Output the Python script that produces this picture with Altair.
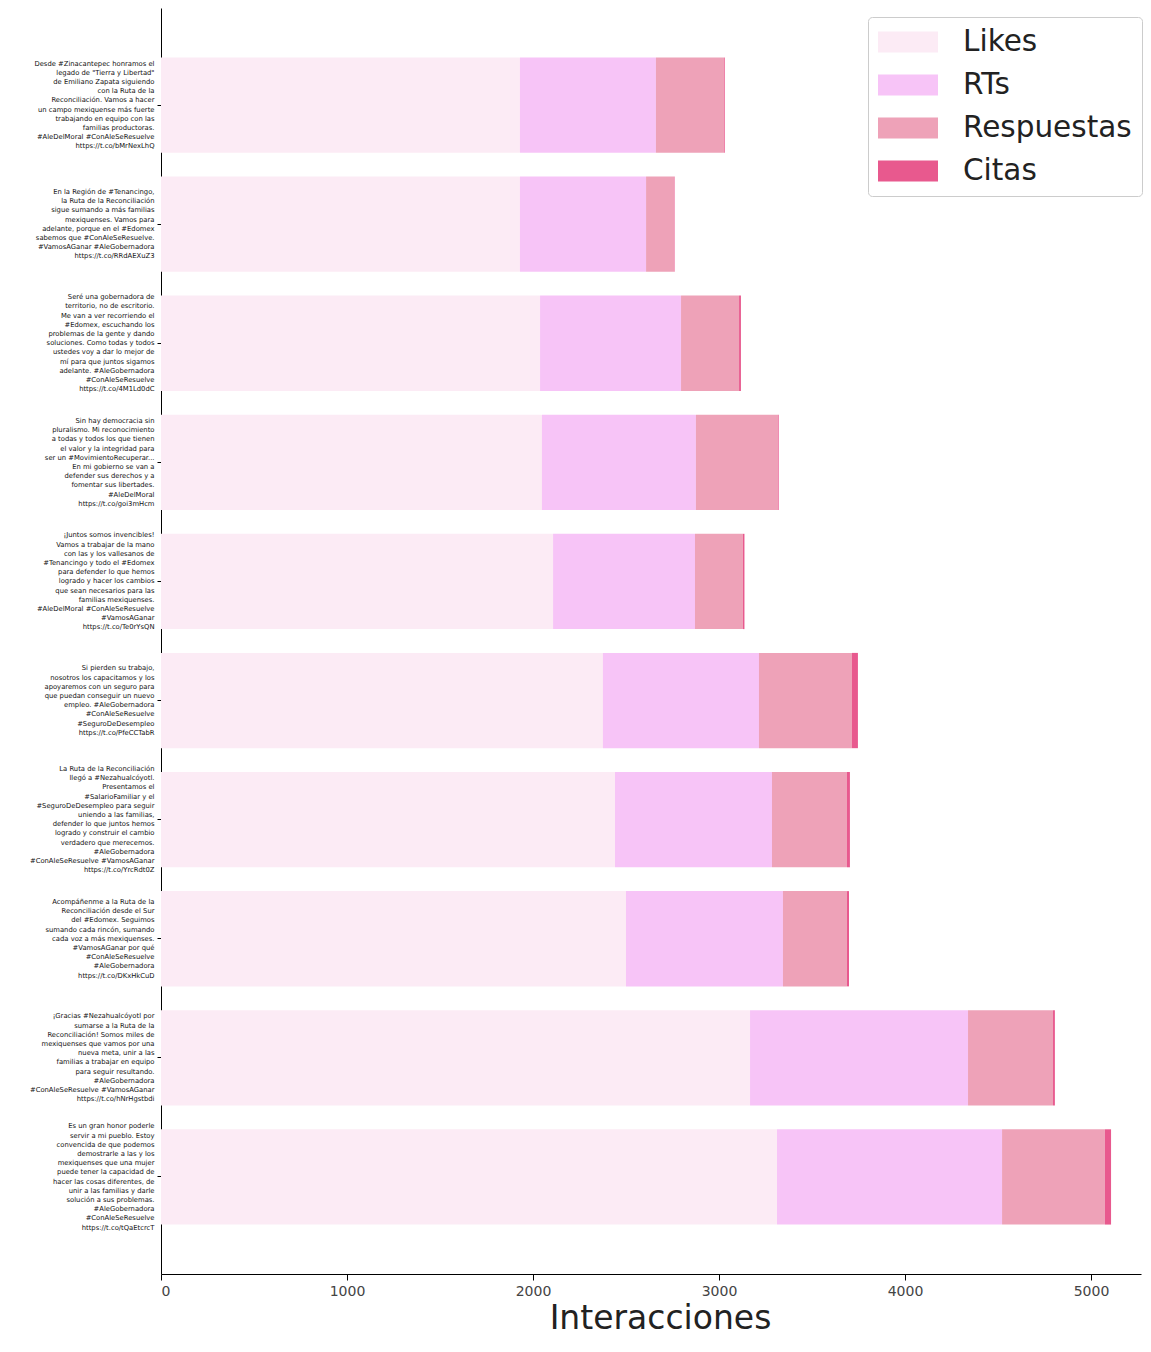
import json
import altair as alt
import pandas as pd

# Tweets (top to bottom), line breaks as in the reference
tweets = [
    "Desde #Zinacantepec honramos el\nlegado de \"Tierra y Libertad\"\nde Emiliano Zapata siguiendo\ncon la Ruta de la\nReconciliación. Vamos a hacer\nun campo mexiquense más fuerte\ntrabajando en equipo con las\nfamilias productoras.\n#AleDelMoral #ConAleSeResuelve\nhttps://t.co/bMrNexLhQ",
    "En la Región de #Tenancingo,\nla Ruta de la Reconciliación\nsigue sumando a más familias\nmexiquenses. Vamos para\nadelante, porque en el #Edomex\nsabemos que #ConAleSeResuelve.\n#VamosAGanar #AleGobernadora\nhttps://t.co/RRdAEXuZ3",
    "Seré una gobernadora de\nterritorio, no de escritorio.\nMe van a ver recorriendo el\n#Edomex, escuchando los\nproblemas de la gente y dando\nsoluciones. Como todas y todos\nustedes voy a dar lo mejor de\nmí para que juntos sigamos\nadelante. #AleGobernadora\n#ConAleSeResuelve\nhttps://t.co/4M1Ld0dC",
    "Sin hay democracia sin\npluralismo. Mi reconocimiento\na todas y todos los que tienen\nel valor y la integridad para\nser un #MovimientoRecuperar...\nEn mi gobierno se van a\ndefender sus derechos y a\nfomentar sus libertades.\n#AleDelMoral\nhttps://t.co/goi3mHcm",
    "¡Juntos somos invencibles!\nVamos a trabajar de la mano\ncon las y los vallesanos de\n#Tenancingo y todo el #Edomex\npara defender lo que hemos\nlogrado y hacer los cambios\nque sean necesarios para las\nfamilias mexiquenses.\n#AleDelMoral #ConAleSeResuelve\n#VamosAGanar\nhttps://t.co/Te0rYsQN",
    "Si pierden su trabajo,\nnosotros los capacitamos y los\napoyaremos con un seguro para\nque puedan conseguir un nuevo\nempleo. #AleGobernadora\n#ConAleSeResuelve\n#SeguroDeDesempleo\nhttps://t.co/PfeCCTabR",
    "La Ruta de la Reconciliación\nllegó a #Nezahualcóyotl.\nPresentamos el\n#SalarioFamiliar y el\n#SeguroDeDesempleo para seguir\nuniendo a las familias,\ndefender lo que juntos hemos\nlogrado y construir el cambio\nverdadero que merecemos.\n#AleGobernadora\n#ConAleSeResuelve #VamosAGanar\nhttps://t.co/YrcRdt0Z",
    "Acompáñenme a la Ruta de la\nReconciliación desde el Sur\ndel #Edomex. Seguimos\nsumando cada rincón, sumando\ncada voz a más mexiquenses.\n#VamosAGanar por qué\n#ConAleSeResuelve\n#AleGobernadora\nhttps://t.co/DKxHkCuD",
    "¡Gracias #Nezahualcóyotl por\nsumarse a la Ruta de la\nReconciliación! Somos miles de\nmexiquenses que vamos por una\nnueva meta, unir a las\nfamilias a trabajar en equipo\npara seguir resultando.\n#AleGobernadora\n#ConAleSeResuelve #VamosAGanar\nhttps://t.co/hNrHgstbdi",
    "Es un gran honor poderle\nservir a mi pueblo. Estoy\nconvencida de que podemos\ndemostrarle a las y los\nmexiquenses que una mujer\npuede tener la capacidad de\nhacer las cosas diferentes, de\nunir a las familias y darle\nsolución a sus problemas.\n#AleGobernadora\n#ConAleSeResuelve\nhttps://t.co/tQaEtcrcT",
]

tipos = ["Likes", "RTs", "Respuestas", "Citas"]
colores = ["#fcebf5", "#f7c4f7", "#eea2b8", "#e8598e"]

likes = [1930, 1930, 2038, 2048, 2108, 2376, 2441, 2500, 3167, 3312]
rts = [731, 678, 758, 828, 763, 839, 844, 844, 1172, 1210]
respuestas = [366, 150, 312, 441, 258, 500, 403, 344, 457, 553]
citas = [4, 3, 10, 4, 8, 32, 16, 11, 10, 33]

rows = []
for i, t in enumerate(tweets):
    for k, (tipo, serie) in enumerate(zip(tipos, [likes, rts, respuestas, citas])):
        rows.append({"tweet": t, "tipo": tipo, "valor": serie[i], "orden": k})
df = pd.DataFrame(rows)

LINE_H = 9.2
# vertically centre each multi-line label on its tick
offset_conditions = [
    {"test": "datum.value === " + json.dumps(t), "value": -(t.count("\n")) * LINE_H / 2}
    for t in tweets
]

chart = alt.Chart(df).mark_bar().encode(
    y=alt.Y(
        "tweet:N",
        sort=tweets,
        scale=alt.Scale(paddingInner=0.2, paddingOuter=0.415),
        axis=alt.Axis(
            title=None,
            labelExpr="split(datum.label, '\\n')",
            labelFontSize=6.8,
            labelLineHeight=LINE_H,
            labelLimit=0,
            labelBaseline="middle",
            labelOffset={"condition": offset_conditions, "value": 0},
            labelColor="#111111",
            labelFont="DejaVu Sans",
            minExtent=153,
            tickSize=4,
            labelPadding=3,
            domainColor="#000000",
            tickColor="#000000",
        ),
    ),
    x=alt.X(
        "valor:Q",
        stack="zero",
        scale=alt.Scale(domain=[0, 5269], nice=False),
        axis=alt.Axis(
            title="Interacciones",
            values=[0, 1000, 2000, 3000, 4000, 5000],
            format="d",
            grid=False,
            titleFontSize=33,
            titleFont="DejaVu Sans",
            titleFontWeight="normal",
            titleColor="#222222",
            titlePadding=4,
            titleX=499,
            titleAlign="center",
            labelFontSize=14,
            labelFont="DejaVu Sans",
            labelColor="#444444",
            labelPadding=4,
            tickSize=6,
            domainColor="#000000",
            tickColor="#000000",
        ),
    ),
    color=alt.Color(
        "tipo:N",
        scale=alt.Scale(domain=tipos, range=colores),
        legend=alt.Legend(
            title=None,
            orient="none",
            legendX=707,
            legendY=9,
            labelFontSize=29.5,
            labelFont="DejaVu Sans",
            labelColor="#222222",
            labelLimit=400,
            symbolType="M-1,-0.7L3,-0.7L3,0.7L-1,0.7Z",
            symbolSize=900,
            symbolStrokeWidth=0,
            symbolOpacity=1,
            labelOffset=55,
            rowPadding=13,
            padding=10,
            strokeColor="#cccccc",
            fillColor="#ffffff",
            cornerRadius=4,
        ),
    ),
    order=alt.Order("orden:Q"),
).properties(
    width=980,
    height=1266,
    padding={"left": 0, "top": 0, "right": 0, "bottom": 6},
).configure_view(strokeWidth=0)

chart.save("out.html", embed_options={"renderer": "svg", "actions": False})
